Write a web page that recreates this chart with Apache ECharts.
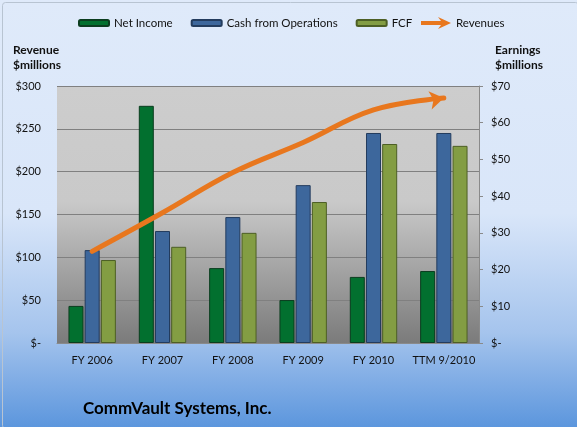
<!DOCTYPE html>
<html>
<head>
<meta charset="utf-8">
<script src="https://cdn.jsdelivr.net/npm/echarts@6/dist/echarts.min.js"></script>
<style>
  html, body { margin: 0; padding: 0; }
  #chart { width: 577px; height: 427px; }
</style>
</head>
<body>
<div id="chart"></div>
<script>
// values
let categories = ['FY 2006', 'FY 2007', 'FY 2008', 'FY 2009', 'FY 2010', 'TTM 9/2010'];
let netIncome = [10.1, 64.6, 20.4, 11.7, 18.0, 19.6];
let cashOps = [25.3, 30.5, 34.3, 43.0, 57.2, 57.2];
let fcf = [22.6, 26.2, 30.0, 38.4, 54.2, 53.7];
let revenues = [107, 152, 199, 234, 272, 286];

let font = 'Lato, "Open Sans", sans-serif';

function money(v) {
  return v === 0 ? '$-' : '$' + v;
}

let revData = revenues.map(function (v, i) {
  if (i === revenues.length - 1) {
    return { value: v, symbol: 'arrow', symbolSize: [14, 14], symbolRotate: -80 };
  }
  return v;
});

let chart = echarts.init(document.getElementById('chart'));
chart.setOption({
  backgroundColor: {
    type: 'linear', x: 0, y: 0, x2: 0, y2: 1,
    colorStops: [
      { offset: 0, color: '#dfeafa' },
      { offset: 0.5, color: '#d9e6f9' },
      { offset: 0.78, color: '#a5c4ed' },
      { offset: 1, color: '#5c96dd' }
    ]
  },
  textStyle: { fontFamily: font },
  graphic: [{
    type: 'rect', left: 0, top: 0,
    shape: { x: 0.5, y: 0.5, width: 576, height: 426, r: 3 },
    style: { fill: 'none', stroke: '#b8c4d2', lineWidth: 1 },
    silent: true
  }],
  legend: [
    {
      top: 17,
      left: 78,
      padding: 0,
      itemWidth: 30,
      itemHeight: 6,
      itemGap: 18,
      textStyle: { fontSize: 11.5, color: '#111' },
      data: ['Net Income', 'Cash from Operations', 'FCF']
    },
    {
      top: 17,
      left: 421,
      padding: 0,
      itemWidth: 30,
      itemHeight: 12,
      textStyle: { fontSize: 11.5, color: '#111' },
      data: [{ name: 'Revenues', icon: 'path://M0,4 L20,4 L17,0 L30,6 L17,12 L20,8 L0,8 Z', itemStyle: { color: '#e8771e' } }]
    }
  ],
  title: {
    text: 'CommVault Systems, Inc.',
    left: 78,
    top: 395,
    textStyle: { fontSize: 17, fontWeight: 'bold', color: '#000', fontFamily: font }
  },
  grid: {
    left: 57, right: 98, top: 86, bottom: 84,
    show: true,
    borderWidth: 0,
    backgroundColor: {
      type: 'linear', x: 0, y: 0, x2: 0, y2: 1,
      colorStops: [
        { offset: 0, color: '#cdcdcd' },
        { offset: 0.45, color: '#c9c9c9' },
        { offset: 1, color: '#7b7b7b' }
      ]
    }
  },
  xAxis: {
    type: 'category',
    data: categories,
    axisLine: { show: true, lineStyle: { color: '#8a8a8a' } },
    axisTick: { show: false },
    axisLabel: { interval: 0, fontSize: 11, color: '#111', margin: 12 },
    splitLine: { show: false },
    minorSplitLine: { show: false },
    splitArea: { show: false }
  },
  yAxis: [
    {
      type: 'value',
      min: 0, max: 300, interval: 50,
      name: 'Revenue\n$millions',
      nameLocation: 'end',
      nameGap: 13,
      nameTextStyle: { align: 'left', fontWeight: 'bold', fontSize: 12, color: '#111', padding: [0, 0, 0, -44], lineHeight: 15 },
      axisLine: { show: false },
      axisTick: { show: false },
      axisLabel: { formatter: money, fontSize: 11, color: '#111', margin: 16 },
      splitLine: { lineStyle: { color: '#808080', width: 1 } }
    },
    {
      type: 'value',
      min: 0, max: 70, interval: 10,
      position: 'right',
      name: 'Earnings\n$millions',
      nameLocation: 'end',
      nameGap: 13,
      nameTextStyle: { align: 'left', fontWeight: 'bold', fontSize: 12, color: '#111', padding: [0, 0, 0, 16], lineHeight: 15 },
      axisLine: { show: true, lineStyle: { color: '#8a8a8a' } },
      axisTick: { show: true, length: 4, lineStyle: { color: '#8a8a8a' } },
      axisLabel: { formatter: money, fontSize: 11, color: '#111', margin: 12 },
      splitLine: { show: false }
    }
  ],
  series: [
    {
      name: 'Net Income', type: 'bar', yAxisIndex: 1, data: netIncome,
      barWidth: 15, barGap: '8%',
      itemStyle: { color: '#02702f', borderColor: '#0b3d1f', borderWidth: 1 }
    },
    {
      name: 'Cash from Operations', type: 'bar', yAxisIndex: 1, data: cashOps,
      barWidth: 15, barGap: '8%',
      itemStyle: { color: '#3d679c', borderColor: '#233c5e', borderWidth: 1 }
    },
    {
      name: 'FCF', type: 'bar', yAxisIndex: 1, data: fcf,
      barWidth: 15, barGap: '8%',
      itemStyle: { color: '#839d43', borderColor: '#4d5f25', borderWidth: 1 }
    },
    {
      name: 'Revenues', type: 'line', yAxisIndex: 0, data: revData,
      smooth: 0.4,
      symbol: 'none',
      showSymbol: true,
      lineStyle: { color: '#e8771e', width: 5, cap: 'round' },
      itemStyle: { color: '#e8771e' },
      z: 5
    }
  ]
});
</script>
</body>
</html>
